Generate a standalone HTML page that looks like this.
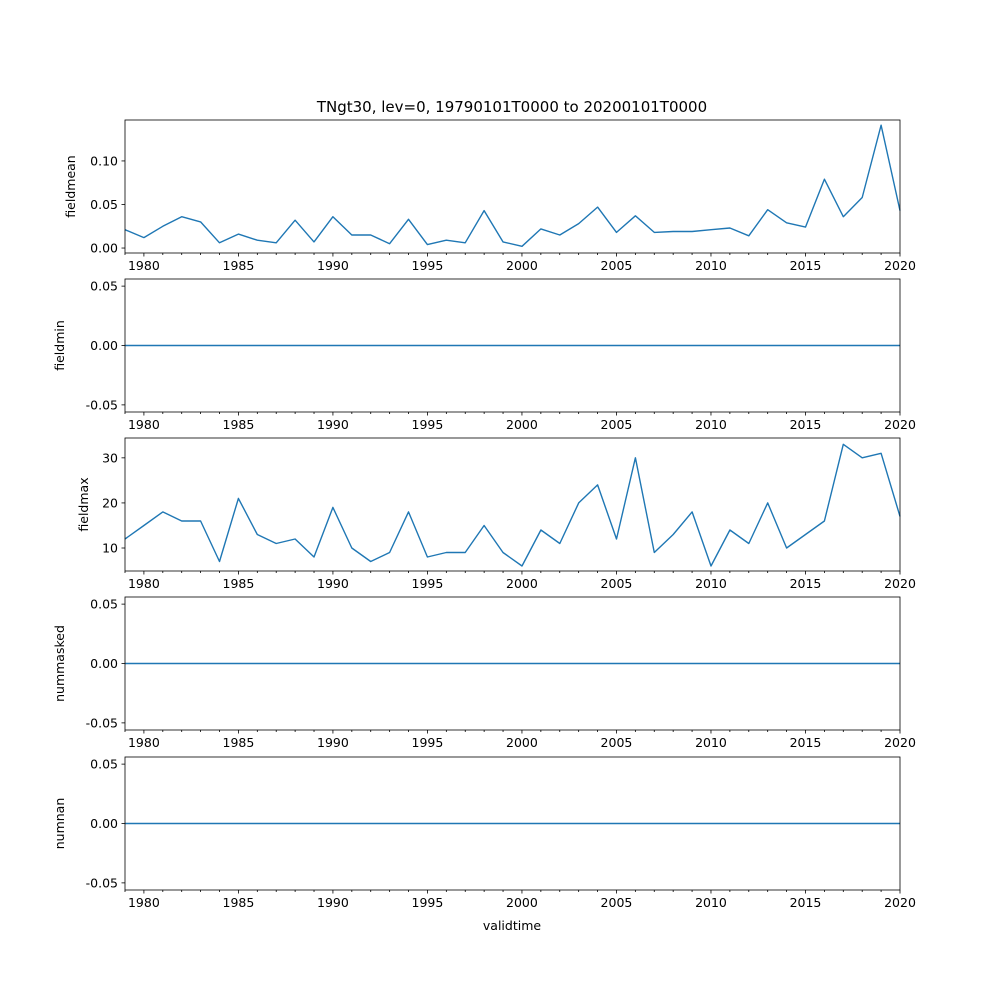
<!DOCTYPE html>
<html><head><meta charset="utf-8"><style>
body{margin:0;background:#fff;font-family:"Liberation Sans","DejaVu Sans",sans-serif}
svg text{font-family:"DejaVu Sans","Liberation Sans",sans-serif;font-size:12.5px;fill:#000}
</style></head><body>
<svg id="fig" width="1000" height="1000" xmlns="http://www.w3.org/2000/svg">
<rect width="1000" height="1000" fill="#fff"/>
<text x="512" y="112" text-anchor="middle" style="font-size:15px">TNgt30, lev=0, 19790101T0000 to 20200101T0000</text>
<text x="512" y="930" text-anchor="middle">validtime</text>
</svg>
<script>
const years = [];
for (let y = 1979; y <= 2020; y++) years.push(y);
const fieldmean = [0.021,0.012,0.025,0.036,0.030,0.006,0.016,0.009,0.006,0.032,0.007,0.036,0.015,0.015,0.005,0.033,0.004,0.009,0.006,0.043,0.007,0.002,0.022,0.015,0.028,0.047,0.018,0.037,0.018,0.019,0.019,0.021,0.023,0.014,0.044,0.029,0.024,0.079,0.036,0.058,0.141,0.043];
const fieldmin = years.map(()=>0);
const fieldmax = [12,15,18,16,16,7,21,13,11,12,8,19,10,7,9,18,8,9,9,15,9,6,14,11,20,24,12,30,9,13,18,6,14,11,20,10,13,16,33,30,31,17];
const nummasked = years.map(()=>0);
const numnan = years.map(()=>0);
const xTicks = [1980,1985,1990,1995,2000,2005,2010,2015,2020];
const meanTicks = [0.00,0.05,0.10];
const zeroTicks = [-0.05,0.00,0.05];
const maxTicks = [10,20,30];

const NS = "http://www.w3.org/2000/svg";
const svg = document.getElementById('fig');
const L = 125, R = 900;
const xs = v => L + (v - 1979) / (2020 - 1979) * (R - L);
function mk(tag, attrs, parent){const e=document.createElementNS(NS,tag);for(const k in attrs)e.setAttribute(k,attrs[k]);(parent||svg).appendChild(e);return e;}

const panels = [
 {name:'fieldmean', data:fieldmean, top:120, bot:253, ymin:-0.0057, ymax:0.147, ticks:meanTicks, fmt:v=>v.toFixed(2), lx:75},
 {name:'fieldmin', data:fieldmin, top:279, bot:412, ymin:-0.056, ymax:0.056, ticks:zeroTicks, fmt:v=>v.toFixed(2), lx:64},
 {name:'fieldmax', data:fieldmax, top:438, bot:571, ymin:4.9, ymax:34.4, ticks:maxTicks, fmt:v=>String(v), lx:88},
 {name:'nummasked', data:nummasked, top:597, bot:730, ymin:-0.056, ymax:0.056, ticks:zeroTicks, fmt:v=>v.toFixed(2), lx:64},
 {name:'numnan', data:numnan, top:757, bot:890, ymin:-0.056, ymax:0.056, ticks:zeroTicks, fmt:v=>v.toFixed(2), lx:64}
];
panels.forEach(p=>{
 const g = mk('g',{});
 
 
 const ys = v => p.bot - (v - p.ymin)/(p.ymax - p.ymin)*(p.bot - p.top);
 const pts = years.map((y,i)=>xs(y).toFixed(1)+','+ys(p.data[i]).toFixed(1)).join(' ');
 const line = mk('polyline',{points:pts,fill:'none',stroke:'#1f77b4','stroke-width':1.4,'stroke-linejoin':'round'},g);
 
 
 for (let y=1979;y<=2020;y++){
   const major = y%5===0;
   mk('line',{x1:xs(y),x2:xs(y),y1:p.bot,y2:p.bot+(major?3.5:2),stroke:'#000','stroke-width':0.8},g);
 }
 xTicks.forEach(t=>{
   const tx = mk('text',{x:xs(t),y:p.bot+17,'text-anchor':'middle'},g);
   tx.textContent = t;
   
   
 });
 p.ticks.forEach(t=>{
   const yy = ys(t);
   mk('line',{x1:L-3.5,x2:L,y1:yy,y2:yy,stroke:'#000','stroke-width':0.8},g);
   const tx = mk('text',{x:L-7,y:yy+4.5,'text-anchor':'end'},g);
   tx.textContent = p.fmt(t);
   
   
 });
 const mid = (p.top+p.bot)/2;
 const lab = mk('text',{x:0,y:0,'text-anchor':'middle',transform:`translate(${p.lx},${mid}) rotate(-90)`},g);
 lab.textContent = p.name;
 
 
 mk('rect',{x:L,y:p.top,width:R-L,height:p.bot-p.top,fill:'none',stroke:'#000','stroke-width':0.8},g);
});
</script>
</body></html>
